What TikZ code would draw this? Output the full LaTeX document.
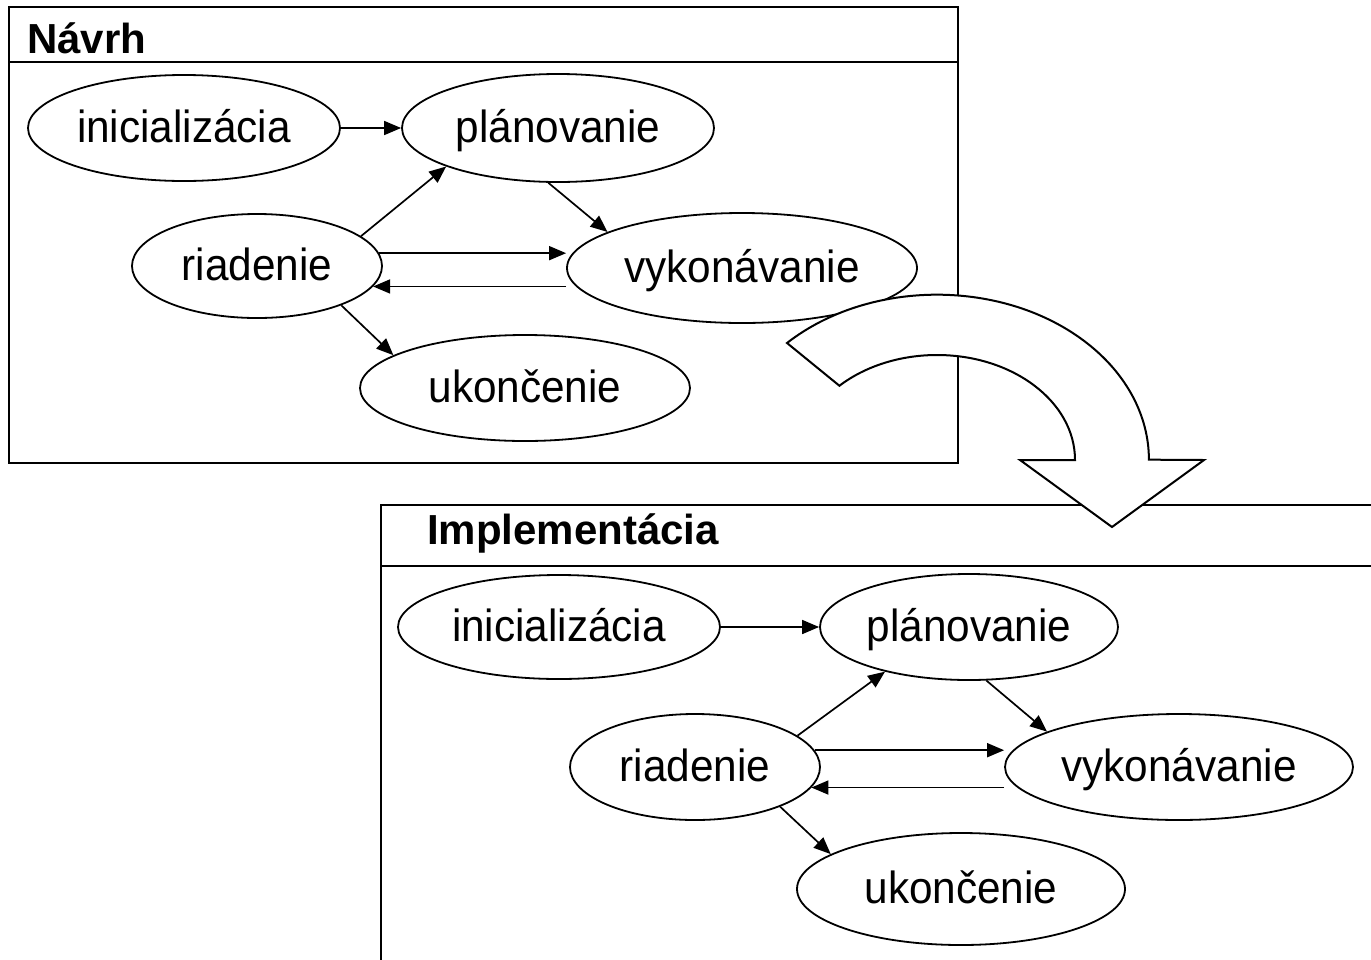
\documentclass[tikz,border=0pt]{standalone}
\usepackage{fontspec}
\setmainfont{Liberation Sans}
\newfontfamily\uzolfont[FakeStretch=0.94]{Liberation Sans}
\usetikzlibrary{shapes.geometric,arrows.meta}
\begin{document}
\begin{tikzpicture}
		[	x=1pt,y=-1pt,
		stav/.style={ellipse,draw=black,line width=1.8pt,inner sep=0pt,text height=38pt,text depth=10pt,font=\uzolfont\fontsize{45}{52}\selectfont},
		nadpis/.style={anchor=base west,inner sep=0pt,font=\fontsize{42}{50}\selectfont\bfseries},
		hrana/.style={line width=1.7pt,-{Triangle[length=17pt,width=14pt]}},
		ramec/.style={draw=black,line width=2pt}
		]
\useasboundingbox (0,0) rectangle (1371,959);
\fill[white] (0,0) rectangle (1371,959);
\clip (0,0) rectangle (1371,959);
% Navrh
\draw[ramec] (9,7) rectangle (958,463);
\draw[ramec] (9,62) -- (958,62);
\node[nadpis] (navrh) at (27,53) {Návrh};
		\node[stav,minimum width=312,minimum height=106] (ini1) at (184,128) {inicializácia};
		\node[stav,minimum width=312,minimum height=108] (plan1) at (558,128) {plánovanie};
		\node[stav,minimum width=250,minimum height=104] (riad1) at (257,266) {riadenie};
		\node[stav,minimum width=350,minimum height=110] (vyk1) at (742,268) {vykonávanie};
		\node[stav,minimum width=330,minimum height=106] (ukon1) at (525,388) {ukončenie};
\draw[hrana] (ini1) -- (plan1);
\draw[hrana] (riad1.16) -- (plan1.199);
\draw[hrana] (plan1.260) -- (vyk1.165);
\draw[hrana] (riad1.6) -- (riad1.6 -| vyk1.west);
\draw[hrana] (vyk1.west |- riad1.-10) -- (riad1.-10);
\draw[hrana] (riad1.-25) -- (ukon1.166);
% Implementacia
\draw[ramec] (381,505) rectangle (1400,1000);
\draw[ramec] (381,566) -- (1400,566);
\node[nadpis] (impl) at (427,544) {Implementácia};
		\node[stav,minimum width=322,minimum height=104] (ini2) at (559,627) {inicializácia};
		\node[stav,minimum width=298,minimum height=106] (plan2) at (969,627) {plánovanie};
		\node[stav,minimum width=250,minimum height=106] (riad2) at (695,767) {riadenie};
		\node[stav,minimum width=348,minimum height=106] (vyk2) at (1179,767) {vykonávanie};
		\node[stav,minimum width=328,minimum height=112] (ukon2) at (961,889) {ukončenie};
\draw[hrana] (ini2) -- (plan2);
\draw[hrana] (riad2.17) -- (plan2.208);
\draw[hrana] (plan2.288) -- (vyk2.165);
\draw[hrana] (riad2.8) -- (riad2.8 -| vyk2.west);
\draw[hrana] (vyk2.west |- riad2.-10) -- (riad2.-10);
\draw[hrana] (riad2.-25) -- (ukon2.165);
% prechod
\draw[line width=2pt,fill=white] (787,343) arc[start angle=-135,end angle=0,x radius=212,y radius=165]
  -- (1204,460) -- (1112,527) -- (1020,460) -- (1075,460)
  arc[start angle=0,end angle=-135,x radius=138,y radius=105] -- cycle;
\end{tikzpicture}
\end{document}
